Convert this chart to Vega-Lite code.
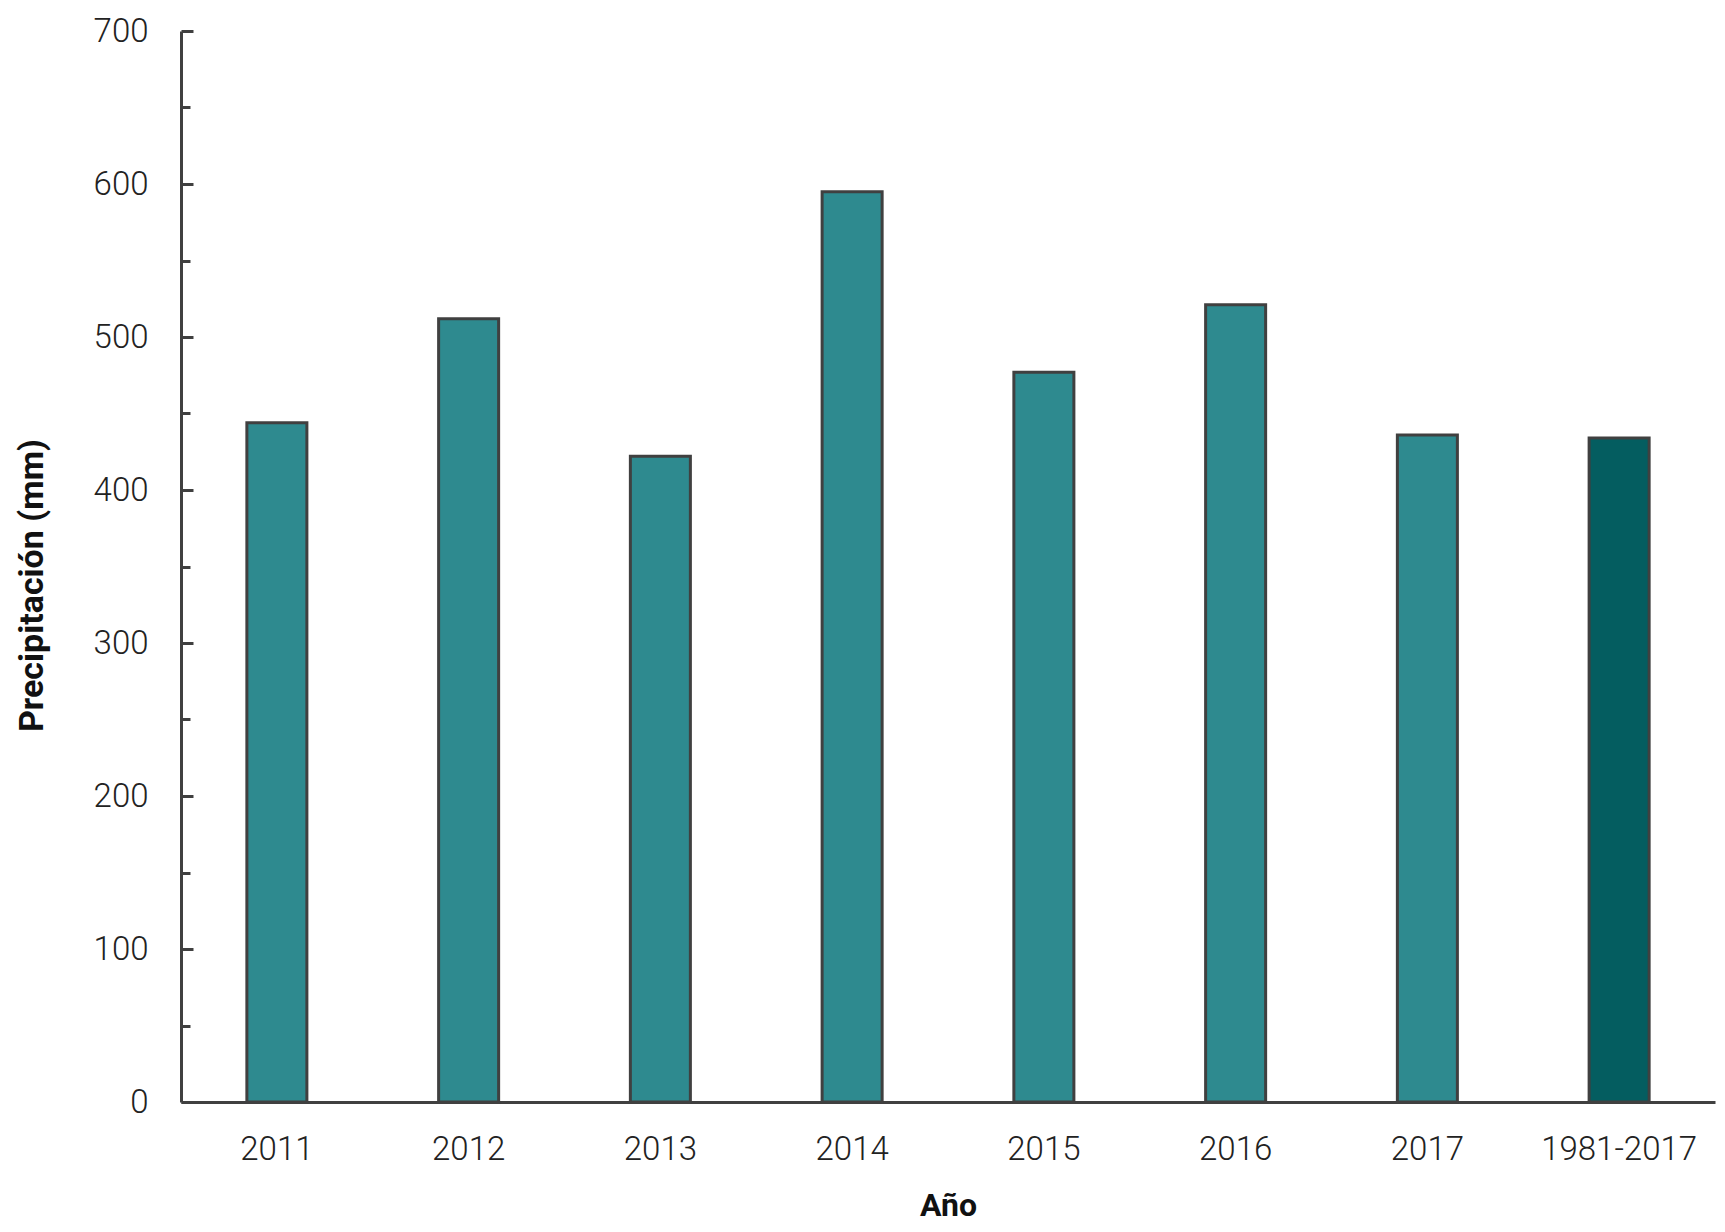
{
  "$schema": "https://vega.github.io/schema/vega-lite/v6.json",
  "width": 1534,
  "height": 1071,
  "autosize": "none",
  "padding": {"left": 181, "top": 31, "right": 10, "bottom": 130},
  "background": "white",
  "config": {"view": {"stroke": null}, "font": "Roboto"},
  "data": {
    "values": [
      {"periodo": "2011", "precip": 444, "tipo": "anual"},
      {"periodo": "2012", "precip": 512, "tipo": "anual"},
      {"periodo": "2013", "precip": 422, "tipo": "anual"},
      {"periodo": "2014", "precip": 595, "tipo": "anual"},
      {"periodo": "2015", "precip": 477, "tipo": "anual"},
      {"periodo": "2016", "precip": 521, "tipo": "anual"},
      {"periodo": "2017", "precip": 436, "tipo": "anual"},
      {"periodo": "1981-2017", "precip": 434, "tipo": "media"}
    ]
  },
  "mark": {"type": "bar", "stroke": "#404040", "strokeWidth": 3},
  "encoding": {
    "x": {
      "field": "periodo",
      "type": "nominal",
      "sort": null,
      "scale": {"paddingInner": 0.687, "paddingOuter": 0.3435},
      "axis": {
        "title": "Año",
        "titleFont": "Roboto",
        "titleFontWeight": "bold",
        "titleFontSize": 32,
        "titleColor": "#111111",
        "titlePadding": 24,
        "labelAngle": 0,
        "labelFont": "Roboto",
        "labelFontWeight": 300,
        "labelFontSize": 33,
        "labelColor": "#222222",
        "labelPadding": 31,
        "ticks": false,
        "domainColor": "#404040",
        "domainWidth": 3
      }
    },
    "y": {
      "field": "precip",
      "type": "quantitative",
      "scale": {"domain": [0, 700], "nice": false},
      "axis": {
        "title": "Precipitación (mm)",
        "titleFont": "Roboto",
        "titleFontWeight": "bold",
        "titleFontSize": 34,
        "titleColor": "#111111",
        "titlePadding": 44,
        "titleY": 554,
        "values": [0, 50, 100, 150, 200, 250, 300, 350, 400, 450, 500, 550, 600, 650, 700],
        "labelExpr": "datum.value % 100 === 0 ? datum.label : ''",
        "labelFont": "Roboto",
        "labelFontWeight": 300,
        "labelFontSize": 33,
        "labelColor": "#222222",
        "labelPadding": 45,
        "tickSize": {"condition": {"test": "datum.value % 100 !== 0", "value": -9}, "value": -12},
        "tickColor": "#404040",
        "tickWidth": 3,
        "domainColor": "#404040",
        "domainWidth": 3,
        "grid": false
      }
    },
    "color": {
      "field": "tipo",
      "type": "nominal",
      "scale": {"domain": ["anual", "media"], "range": ["#2E8A8F", "#045D60"]},
      "legend": null
    }
  }
}
